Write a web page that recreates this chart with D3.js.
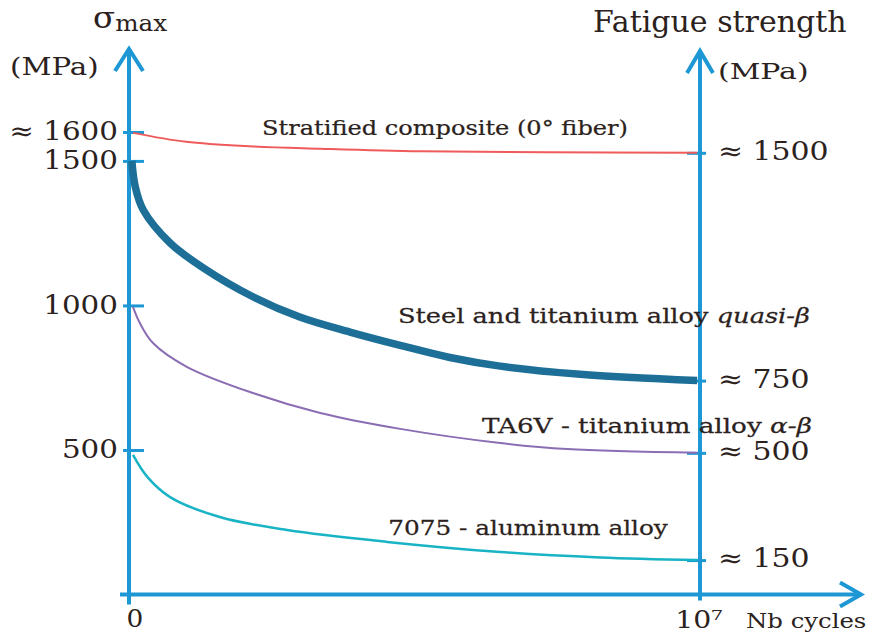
<!DOCTYPE html>
<html>
<head>
<meta charset="utf-8">
<script src="https://cdn.jsdelivr.net/npm/d3@7"></script>
<style>
  body { margin: 0; background: #fff; }
  svg text { font-family: "DejaVu Serif", serif; fill: #2b2220; }
</style>
</head>
<body>
<div id="chart"></div>
<script>
const w = 873;
const h = 637;
const axisColor = '#1e98d4';

// cycles in units of 10^6, stress in MPa
const composite = [[0.07, 1597], [1.0, 1566], [2.17, 1550], [3.35, 1542], [5.1, 1533], [7.3, 1530], [9.95, 1528]];
const steel = [[0.05, 1500], [0.11, 1410], [0.25, 1330], [0.72, 1216], [1.3, 1130], [2.17, 1030], [2.99, 960], [3.87, 908], [4.75, 862], [5.62, 820], [6.5, 790], [7.9, 762], [9.95, 740]];
const ta6v = [[0.07, 995], [0.19, 939], [0.42, 870], [1.02, 787], [2.17, 697], [3.35, 628], [4.75, 573], [6.5, 524], [7.67, 503], [9.95, 490]];
const alu7075 = [[0.07, 483], [0.32, 407], [0.72, 337], [1.59, 268], [2.77, 223], [4.52, 182], [6.5, 147], [8.25, 128], [9.95, 119]];

const seriesNames = ['Stratified composite (0° fiber)', 'Steel and titanium alloy ', 'TA6V - titanium alloy ', '7075 - aluminum alloy'];
const seriesItalic = ['', 'quasi-β', 'α-β', ''];
const seriesColors = ['#ef5a5a', '#1d6f98', '#8b6db3', '#19b3c6'];
const seriesWidths = [2, 7.5, 2, 2.5];
// label span for each curve: start and end cycles, baseline MPa
const seriesLabelAt = [[2.33, 8.74, 1590], [4.71, 11.93, 939], [6.18, 11.96, 559], [4.54, 9.44, 206]];

const leftTicks = [1600, 1500, 1000, 500];
const leftTickLabels = ['≈ 1600', '1500', '1000', '500'];
const rightTickLabels = ['≈ 1500', '≈ 750', '≈ 500', '≈ 150'];

const allSeries = [composite, steel, ta6v, alu7075];

const xScale = d3.scaleLinear().domain([0, 10]).range([129, 700]);
const yScale = d3.scaleLinear().domain([0, 1600]).range([594.5, 132]);

const svg = d3.select('#chart')
  .append('svg')
  .attr('width', w)
  .attr('height', h);

// text, a little wider than the font, like the original figure
function addText(x, y, size, sx, str) {
  return svg.append('text')
    .attr('transform', `translate(${x},${y}) scale(${sx},1)`)
    .attr('font-size', size)
    .text(str);
}

// axes with arrows
const x0 = xScale(0), x1 = xScale(10), y0 = yScale(0);
const axes = svg.append('g')
  .attr('fill', 'none')
  .attr('stroke', axisColor)
  .attr('stroke-width', 4);
axes.append('line').attr('x1', x0).attr('y1', y0 + 10).attr('x2', x0).attr('y2', 49);
axes.append('path').attr('d', `M${x0 - 14},71 L${x0},49 L${x0 + 14},71`);
axes.append('line').attr('x1', x1).attr('y1', y0 + 6).attr('x2', x1).attr('y2', 51);
axes.append('path').attr('d', `M${x1 - 13},73 L${x1},51 L${x1 + 13},73`);
axes.append('line').attr('x1', x0 - 9).attr('y1', y0).attr('x2', 861).attr('y2', y0);
axes.append('path').attr('d', `M840,${y0 - 12} L861,${y0} L840,${y0 + 12}`);

// left axis ticks
const yAxis = d3.axisLeft(yScale)
  .tickValues(leftTicks)
  .tickFormat((d, i) => leftTickLabels[i]);
const gl = svg.append('g')
  .attr('transform', 'translate(' + x0 + ',0)')
  .call(yAxis);
gl.select('.domain').remove();
gl.selectAll('line').attr('x1', -6).attr('x2', 15).attr('stroke', axisColor).attr('stroke-width', 3);
gl.selectAll('text')
  .attr('x', 0)
  .attr('dy', '0.3em')
  .attr('transform', 'translate(-11,0) scale(1.13,1)')
  .attr('font-size', 26)
  .attr('fill', '#2b2220')
  .attr('font-family', '"DejaVu Serif", serif');

// right axis ticks at curve endpoints
const ends = allSeries.map(s => s[s.length - 1][1]);
const yAxisR = d3.axisRight(yScale)
  .tickValues(ends)
  .tickFormat((d, i) => rightTickLabels[i]);
const gr = svg.append('g')
  .attr('transform', 'translate(' + x1 + ',0)')
  .call(yAxisR);
gr.select('.domain').remove();
gr.selectAll('line').attr('x1', -13).attr('x2', 6).attr('stroke', axisColor).attr('stroke-width', 3);
gr.selectAll('text')
  .attr('x', 0)
  .attr('dy', '0.25em')
  .attr('transform', 'translate(18,0) scale(1.15,1)')
  .attr('font-size', 26)
  .attr('fill', '#2b2220')
  .attr('font-family', '"DejaVu Serif", serif');

// curves
const line = d3.line()
  .x(d => xScale(d[0]))
  .y(d => yScale(d[1]))
  .curve(d3.curveCatmullRom.alpha(0.5));

svg.selectAll('path.curve')
  .data(allSeries)
  .enter()
  .append('path')
  .attr('class', 'curve')
  .attr('d', line)
  .attr('fill', 'none')
  .attr('stroke', (d, i) => seriesColors[i])
  .attr('stroke-width', (d, i) => seriesWidths[i]);

// curve labels, stretched to the span they take in the figure
const labels = svg.selectAll('text.curve-label')
  .data(seriesNames)
  .enter()
  .append('text')
  .attr('class', 'curve-label')
  .attr('font-size', 21)
  .attr('stroke', '#2b2220')
  .attr('stroke-width', 0.25);
labels.append('tspan').text(d => d);
labels.append('tspan')
  .attr('font-style', 'italic')
  .text((d, i) => seriesItalic[i]);
labels.attr('transform', function (d, i) {
  const at = seriesLabelAt[i];
  const sx = (xScale(at[1]) - xScale(at[0])) / this.getComputedTextLength();
  return `translate(${xScale(at[0])},${yScale(at[2])}) scale(${sx},1)`;
});

// titles
const sig = svg.append('text').attr('transform', 'translate(93,28) scale(1.12,1)');
sig.append('tspan').attr('font-size', 29).text('σ');
sig.append('tspan').attr('font-size', 22).attr('dy', 3).text('max');

addText(10, 75, 24, 1.22, '(MPa)');
addText(593, 32, 30, 1.0, 'Fatigue strength');
addText(718, 79, 22, 1.36, '(MPa)');

// x labels
addText(x0 + 6, 627, 24, 1.1, '0').attr('text-anchor', 'middle');
addText(x1 - 1, 628, 24, 1.18, '10⁷').attr('text-anchor', 'middle');
addText(746, 628, 21, 1.16, 'Nb cycles');
</script>
</body>
</html>
